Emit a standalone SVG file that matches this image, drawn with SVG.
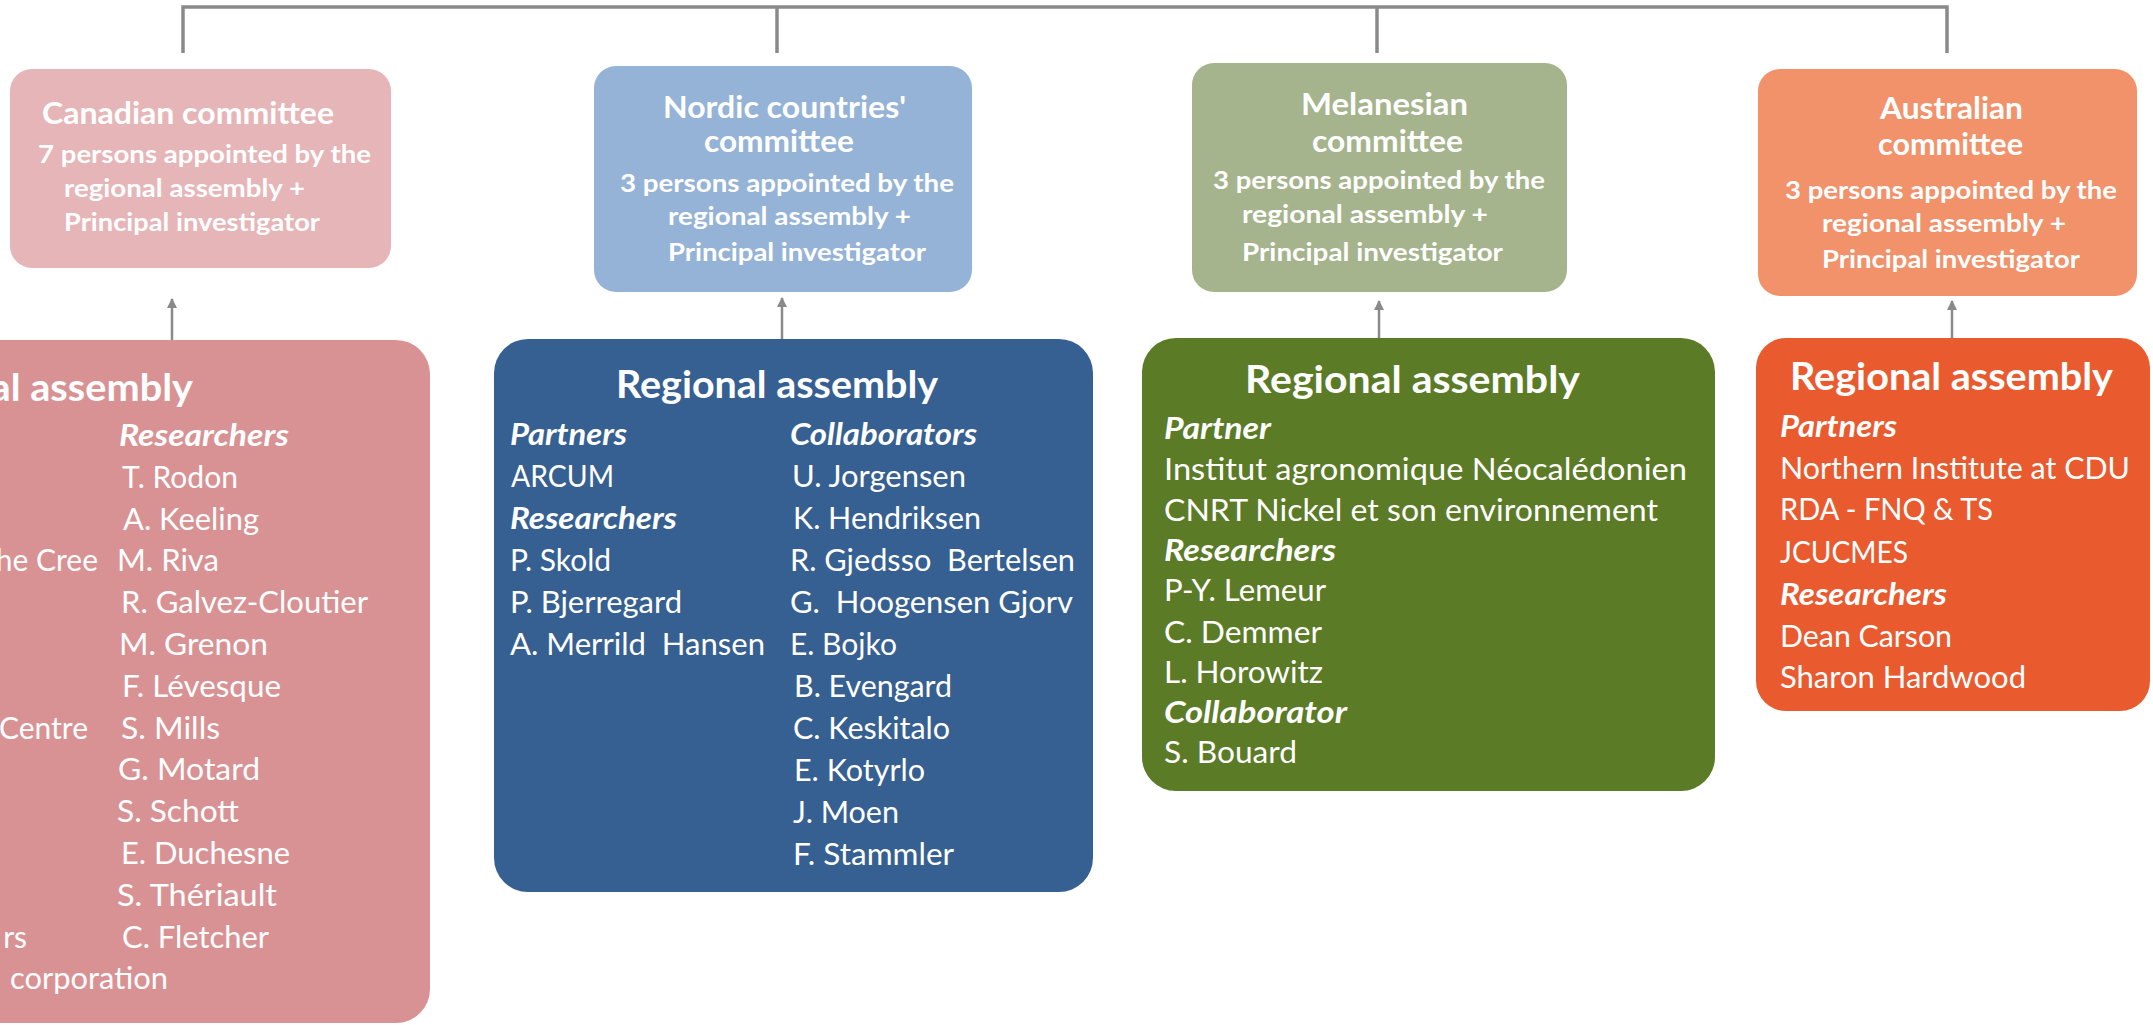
<svg xmlns="http://www.w3.org/2000/svg" width="2153" height="1025" viewBox="0 0 2153 1025">
<defs>
<style>
.cm{font-family:Lato,"Open Sans","Liberation Sans",sans-serif;font-weight:700;fill:#fff}
.ct{font-size:31px}
.cs{font-size:25px}
.at{font-family:Lato,"Open Sans","Liberation Sans",sans-serif;font-weight:700;font-size:38px;fill:#fff}
.b{font-family:Lato,"Open Sans","Liberation Sans",sans-serif;font-size:30px;fill:#fff}
.h{font-weight:700;font-style:italic}
.conn{stroke:#8a8a8a;stroke-width:3.5;fill:none}
.arr{stroke:#8a8a8a;stroke-width:2.5;fill:none;marker-end:url(#ah)}
</style>
<marker id="ah" markerWidth="10" markerHeight="10" refX="9" refY="5" orient="auto" markerUnits="userSpaceOnUse">
<path d="M0,0 L10,5 L0,10 z" fill="#8a8a8a"/>
</marker>
</defs>
<rect width="2153" height="1025" fill="#fff"/>

<g id="connectors">
<path class="conn" d="M183,53 V7 H1947 V53"/>
<path class="conn" d="M777,7 V53"/>
<path class="conn" d="M1377,7 V53"/>
<line class="arr" x1="172" y1="340" x2="172" y2="299"/>
<line class="arr" x1="782" y1="339" x2="782" y2="298"/>
<line class="arr" x1="1379" y1="338" x2="1379" y2="301"/>
<line class="arr" x1="1952" y1="338" x2="1952" y2="301"/>
</g>

<g id="canadian-committee">
<rect x="10" y="69" width="381" height="199" rx="22" fill="#e6b5b7"/>
<text class="cm ct" x="42" y="124" textLength="292" lengthAdjust="spacingAndGlyphs">Canadian committee</text>
<text class="cm cs" x="38" y="163" textLength="333" lengthAdjust="spacingAndGlyphs">7 persons appointed by the</text>
<text class="cm cs" x="64" y="197" textLength="241" lengthAdjust="spacingAndGlyphs">regional assembly +</text>
<text class="cm cs" x="64" y="231" textLength="256" lengthAdjust="spacingAndGlyphs">Principal investigator</text>
</g>

<g id="nordic-committee">
<rect x="594" y="66" width="378" height="226" rx="22" fill="#95b3d7"/>
<text class="cm ct" x="663" y="118" textLength="243" lengthAdjust="spacingAndGlyphs">Nordic countries'</text>
<text class="cm ct" x="704" y="152" textLength="150" lengthAdjust="spacingAndGlyphs">committee</text>
<text class="cm cs" x="620" y="192" textLength="334" lengthAdjust="spacingAndGlyphs">3 persons appointed by the</text>
<text class="cm cs" x="668" y="225" textLength="243" lengthAdjust="spacingAndGlyphs">regional assembly +</text>
<text class="cm cs" x="668" y="261" textLength="258" lengthAdjust="spacingAndGlyphs">Principal investigator</text>
</g>

<g id="melanesian-committee">
<rect x="1192" y="63" width="375" height="229" rx="22" fill="#a5b48c"/>
<text class="cm ct" x="1301" y="115" textLength="167" lengthAdjust="spacingAndGlyphs">Melanesian</text>
<text class="cm ct" x="1312" y="152" textLength="151" lengthAdjust="spacingAndGlyphs">committee</text>
<text class="cm cs" x="1213" y="189" textLength="332" lengthAdjust="spacingAndGlyphs">3 persons appointed by the</text>
<text class="cm cs" x="1242" y="223" textLength="246" lengthAdjust="spacingAndGlyphs">regional assembly +</text>
<text class="cm cs" x="1242" y="261" textLength="261" lengthAdjust="spacingAndGlyphs">Principal investigator</text>
</g>

<g id="australian-committee">
<rect x="1758" y="69" width="379" height="227" rx="22" fill="#f1926b"/>
<text class="cm ct" x="1880" y="119" textLength="143" lengthAdjust="spacingAndGlyphs">Australian</text>
<text class="cm ct" x="1878" y="155" textLength="145" lengthAdjust="spacingAndGlyphs">committee</text>
<text class="cm cs" x="1785" y="199" textLength="332" lengthAdjust="spacingAndGlyphs">3 persons appointed by the</text>
<text class="cm cs" x="1822" y="232" textLength="244" lengthAdjust="spacingAndGlyphs">regional assembly +</text>
<text class="cm cs" x="1822" y="268" textLength="258" lengthAdjust="spacingAndGlyphs">Principal investigator</text>
</g>

<g id="canadian-assembly">
<rect x="-300" y="340" width="730" height="683" rx="34" fill="#d99294"/>
<text class="at" x="-131" y="401" textLength="324" lengthAdjust="spacingAndGlyphs">Regional assembly</text>
<text class="b" x="98" y="571" text-anchor="end">he Cree</text>
<text class="b" x="88" y="739" text-anchor="end">Centre</text>
<text class="b" x="27" y="948" text-anchor="end">rs</text>
<text class="b" x="10" y="989" textLength="158" lengthAdjust="spacingAndGlyphs">corporation</text>
<text class="b h" x="119" y="446" textLength="170" lengthAdjust="spacingAndGlyphs">Researchers</text>
<text class="b" x="122" y="488" textLength="116" lengthAdjust="spacingAndGlyphs">T. Rodon</text>
<text class="b" x="123" y="530" textLength="136" lengthAdjust="spacingAndGlyphs">A. Keeling</text>
<text class="b" x="117" y="571" textLength="102" lengthAdjust="spacingAndGlyphs">M. Riva</text>
<text class="b" x="121" y="613" textLength="247" lengthAdjust="spacingAndGlyphs">R. Galvez-Cloutier</text>
<text class="b" x="119" y="655" textLength="149" lengthAdjust="spacingAndGlyphs">M. Grenon</text>
<text class="b" x="122" y="697" textLength="159" lengthAdjust="spacingAndGlyphs">F. Lévesque</text>
<text class="b" x="121" y="739" textLength="99" lengthAdjust="spacingAndGlyphs">S. Mills</text>
<text class="b" x="118" y="780" textLength="142" lengthAdjust="spacingAndGlyphs">G. Motard</text>
<text class="b" x="117" y="822" textLength="122" lengthAdjust="spacingAndGlyphs">S. Schott</text>
<text class="b" x="121" y="864" textLength="169" lengthAdjust="spacingAndGlyphs">E. Duchesne</text>
<text class="b" x="117" y="906" textLength="160" lengthAdjust="spacingAndGlyphs">S. Thériault</text>
<text class="b" x="122" y="948" textLength="147" lengthAdjust="spacingAndGlyphs">C. Fletcher</text>
</g>

<g id="nordic-assembly">
<rect x="494" y="339" width="599" height="553" rx="34" fill="#376092"/>
<text class="at" x="616" y="398" textLength="322" lengthAdjust="spacingAndGlyphs">Regional assembly</text>
<text class="b h" x="510" y="445" textLength="117" lengthAdjust="spacingAndGlyphs">Partners</text>
<text class="b" x="511" y="487" textLength="103" lengthAdjust="spacingAndGlyphs">ARCUM</text>
<text class="b h" x="510" y="529" textLength="167" lengthAdjust="spacingAndGlyphs">Researchers</text>
<text class="b" x="510" y="571" textLength="101" lengthAdjust="spacingAndGlyphs">P. Skold</text>
<text class="b" x="510" y="613" textLength="172" lengthAdjust="spacingAndGlyphs">P. Bjerregard</text>
<text class="b" x="510" y="655" textLength="255" lengthAdjust="spacingAndGlyphs" xml:space="preserve">A. Merrild  Hansen</text>
<text class="b h" x="790" y="445" textLength="187" lengthAdjust="spacingAndGlyphs">Collaborators</text>
<text class="b" x="792" y="487" textLength="174" lengthAdjust="spacingAndGlyphs">U. Jorgensen</text>
<text class="b" x="793" y="529" textLength="188" lengthAdjust="spacingAndGlyphs">K. Hendriksen</text>
<text class="b" x="790" y="571" textLength="285" lengthAdjust="spacingAndGlyphs" xml:space="preserve">R. Gjedsso  Bertelsen</text>
<text class="b" x="790" y="613" textLength="283" lengthAdjust="spacingAndGlyphs" xml:space="preserve">G.  Hoogensen Gjorv</text>
<text class="b" x="790" y="655" textLength="107" lengthAdjust="spacingAndGlyphs">E. Bojko</text>
<text class="b" x="794" y="697" textLength="158" lengthAdjust="spacingAndGlyphs">B. Evengard</text>
<text class="b" x="793" y="739" textLength="157" lengthAdjust="spacingAndGlyphs">C. Keskitalo</text>
<text class="b" x="794" y="781" textLength="131" lengthAdjust="spacingAndGlyphs">E. Kotyrlo</text>
<text class="b" x="793" y="823" textLength="106" lengthAdjust="spacingAndGlyphs">J. Moen</text>
<text class="b" x="793" y="865" textLength="161" lengthAdjust="spacingAndGlyphs">F. Stammler</text>
</g>

<g id="melanesian-assembly">
<rect x="1142" y="338" width="573" height="453" rx="34" fill="#5b7b27"/>
<text class="at" x="1245" y="393" textLength="335" lengthAdjust="spacingAndGlyphs">Regional assembly</text>
<text class="b h" x="1164" y="439" textLength="107" lengthAdjust="spacingAndGlyphs">Partner</text>
<text class="b" x="1164" y="480" textLength="523" lengthAdjust="spacingAndGlyphs">Institut agronomique Néocalédonien</text>
<text class="b" x="1164" y="521" textLength="494" lengthAdjust="spacingAndGlyphs">CNRT Nickel et son environnement</text>
<text class="b h" x="1164" y="561" textLength="172" lengthAdjust="spacingAndGlyphs">Researchers</text>
<text class="b" x="1164" y="601" textLength="162" lengthAdjust="spacingAndGlyphs">P-Y. Lemeur</text>
<text class="b" x="1164" y="643" textLength="158" lengthAdjust="spacingAndGlyphs">C. Demmer</text>
<text class="b" x="1164" y="683" textLength="159" lengthAdjust="spacingAndGlyphs">L. Horowitz</text>
<text class="b h" x="1164" y="723" textLength="183" lengthAdjust="spacingAndGlyphs">Collaborator</text>
<text class="b" x="1164" y="763" textLength="133" lengthAdjust="spacingAndGlyphs">S. Bouard</text>
</g>

<g id="australian-assembly">
<rect x="1756" y="338" width="394" height="373" rx="30" fill="#e95a2f"/>
<text class="at" x="1790" y="390" textLength="323" lengthAdjust="spacingAndGlyphs">Regional assembly</text>
<text class="b h" x="1780" y="437" textLength="117" lengthAdjust="spacingAndGlyphs">Partners</text>
<text class="b" x="1780" y="479" textLength="350" lengthAdjust="spacingAndGlyphs">Northern Institute at CDU</text>
<text class="b" x="1780" y="520" textLength="213" lengthAdjust="spacingAndGlyphs">RDA - FNQ &amp; TS</text>
<text class="b" x="1780" y="563" textLength="128" lengthAdjust="spacingAndGlyphs">JCUCMES</text>
<text class="b h" x="1780" y="605" textLength="167" lengthAdjust="spacingAndGlyphs">Researchers</text>
<text class="b" x="1780" y="647" textLength="172" lengthAdjust="spacingAndGlyphs">Dean Carson</text>
<text class="b" x="1780" y="688" textLength="246" lengthAdjust="spacingAndGlyphs">Sharon Hardwood</text>
</g>
</svg>
